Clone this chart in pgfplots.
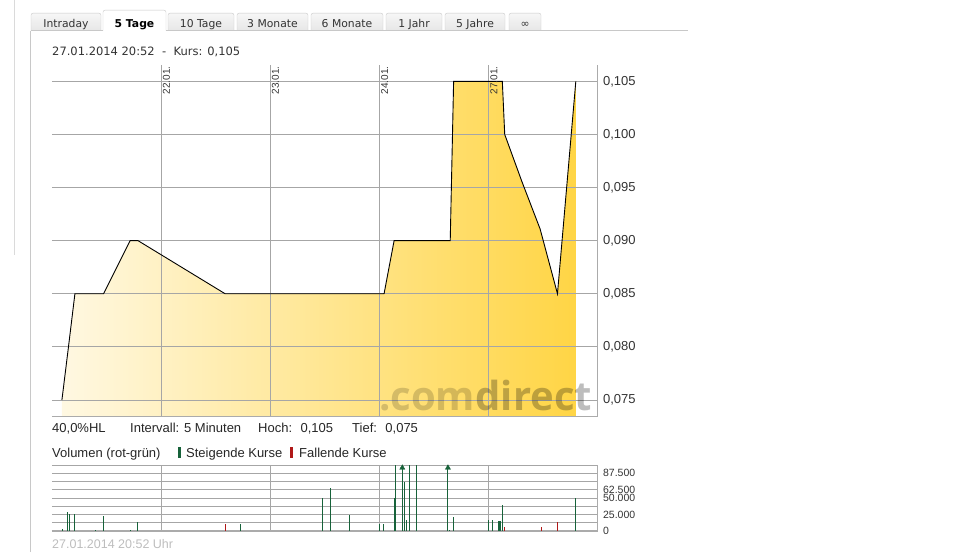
\documentclass[border=0pt]{standalone}
\usepackage{pgfplots}
\pgfplotsset{compat=1.18}
\usepackage{fontspec}
\setmainfont{Liberation Sans}
\newfontfamily\tahoma{DejaVu Sans}
\newfontfamily\logofont{Open Sans}
\definecolor{border}{HTML}{C8C8C8}
\definecolor{pageline}{HTML}{DADADA}
\definecolor{tabtop}{HTML}{F7F7F7}
\definecolor{tabbot}{HTML}{E6E6E6}
\definecolor{txt}{HTML}{333333}
\definecolor{gridgray}{HTML}{A6A6A6}
\definecolor{axgray}{HTML}{ABABAB}
\definecolor{fillL}{HTML}{FFF8E2}
\definecolor{fillR}{HTML}{FFD545}
\definecolor{volgreen}{HTML}{17623A}
\definecolor{volred}{HTML}{B01818}
\definecolor{footgray}{HTML}{BDBDBD}
\pgfplotsset{every tick label/.append style={overlay}}
\begin{document}
\begin{tikzpicture}[x=1pt,y=1pt]
\path (0,0) rectangle (960,552);
% page and panel borders
\draw[pageline] (14.5,552) -- (14.5,297);
\draw[border] (30.5,0) -- (30.5,521.5);
% tabs
\foreach \a/\b/\t in {31/101/Intraday,168/234/10 Tage,237/308/3 Monate,311/383/6 Monate,386/442/1 Jahr,445/505/5 Jahre,509/541/∞}{
  \draw[border, top color=tabtop, bottom color=tabbot, rounded corners=2pt] (\a,521.5) -- (\a,539) -- (\b,539) -- (\b,521.5);
  \node[anchor=base, font=\tahoma\fontsize{10.8}{12}\selectfont, text=txt, inner sep=0] at ({(\a+\b)/2},525) {\t};
}
\draw[border, fill=white, rounded corners=2pt] (103,521.5) -- (103,542) -- (166,542) -- (166,521.5);
\node[anchor=base, font=\tahoma\bfseries\fontsize{10.8}{12}\selectfont, text=black, inner sep=0] at (134.5,525) {5 Tage};
\draw[border] (30.5,521.5) -- (103,521.5);
\draw[border] (166,521.5) -- (688,521.5);
% header
\node[anchor=base west, font=\tahoma\fontsize{11.5}{13}\selectfont, text=txt, inner sep=0] at (52,497) {27.01.2014 20:52~ -~ Kurs: 0,105};

% main price chart
\begin{axis}[
  at={(47.5,127.6)}, anchor=south west, scale only axis,
  width=546pt, height=352pt,
  set layers,
  xmin=0, xmax=5, ymin=0.07343, ymax=0.10657,
  axis x line*=bottom, axis y line*=right,
  axis line style={draw=axgray, line width=0.9pt, -},
  xtick={1,2,3,4}, xticklabels={},
  ytick={0.075,0.080,0.085,0.090,0.095,0.100,0.105},
  yticklabels={{0,075},{0,080},{0,085},{0,090},{0,095},{0,100},{0,105}},
  yticklabel style={font=\fontsize{13}{15}\selectfont, text=txt, inner sep=0pt, xshift=5pt},
  major tick length=0pt,
  xmajorgrids, ymajorgrids,
  major grid style={draw=gridgray, line width=0.8pt},
]
\addplot[on layer=axis background, draw=none, left color=fillL, right color=fillR] coordinates {
 (0.092,0.07343) (0.092,0.075) (0.152,0.080) (0.211,0.085) (0.473,0.085) (0.716,0.090) (0.789,0.090)
 (1.587,0.085) (3.042,0.085) (3.134,0.090) (3.648,0.090) (3.679,0.105) (4.125,0.105) (4.147,0.100)
 (4.303,0.0956) (4.471,0.0911) (4.630,0.085) (4.798,0.105) (4.798,0.07343)
};
\addplot[black, line width=0.9pt, mark=none] coordinates {
 (0.092,0.075) (0.152,0.080) (0.211,0.085) (0.473,0.085) (0.716,0.090) (0.789,0.090)
 (1.587,0.085) (3.042,0.085) (3.134,0.090) (3.648,0.090) (3.679,0.105) (4.125,0.105) (4.147,0.100)
 (4.303,0.0956) (4.471,0.0911) (4.630,0.085) (4.798,0.105)
};
\node[overlay, rotate=90, anchor=north east, font=\fontsize{10}{12}\selectfont, text=txt, inner sep=1.5pt] at (axis cs:1,0.10657) {22.01.};
\node[overlay, rotate=90, anchor=north east, font=\fontsize{10}{12}\selectfont, text=txt, inner sep=1.5pt] at (axis cs:2,0.10657) {23.01.};
\node[overlay, rotate=90, anchor=north east, font=\fontsize{10}{12}\selectfont, text=txt, inner sep=1.5pt] at (axis cs:3,0.10657) {24.01.};
\node[overlay, rotate=90, anchor=north east, font=\fontsize{10}{12}\selectfont, text=txt, inner sep=1.5pt] at (axis cs:4,0.10657) {27.01.};
\end{axis}

% watermark
\node[anchor=base west, inner sep=0, font=\logofont\bfseries\fontsize{40}{40}\selectfont, text=black, text opacity=0.17] (wm) at (379,142) {.com};
\node[anchor=base west, inner sep=0, font=\logofont\bfseries\fontsize{40}{40}\selectfont, text=black, text opacity=0.26] at (wm.base east) {direct};

% info lines
\node[anchor=base west, inner sep=0, font=\fontsize{13}{15}\selectfont, text=black!85] at (52,120) {40,0\%HL};
\node[anchor=base west, inner sep=0, font=\fontsize{13}{15}\selectfont, text=black!85] at (130,120) {Intervall: 5 Minuten};
\node[anchor=base west, inner sep=0, font=\fontsize{13}{15}\selectfont, text=black!85] at (258,120) {Hoch:~ 0,105};
\node[anchor=base west, inner sep=0, font=\fontsize{13}{15}\selectfont, text=black!85] at (352,120) {Tief:~ 0,075};
\node[anchor=base west, inner sep=0, font=\fontsize{13}{15}\selectfont, text=black!85] at (52,95) {Volumen (rot-grün)};
\fill[volgreen] (178,94) rectangle (181,105);
\node[anchor=base west, inner sep=0, font=\fontsize{13}{15}\selectfont, text=black!85] at (186,95) {Steigende Kurse};
\fill[volred] (290,94) rectangle (293,105);
\node[anchor=base west, inner sep=0, font=\fontsize{13}{15}\selectfont, text=black!85] at (299,95) {Fallende Kurse};

% volume chart
\begin{axis}[
  at={(47.5,32.5)}, anchor=south west, scale only axis,
  width=546pt, height=65.7pt,
  xmin=0, xmax=5, ymin=0, ymax=100000,
  axis x line*=bottom, axis y line*=right,
  axis line style={draw=axgray, line width=0.9pt, -},
  x axis line style={line width=1.8pt},
  xtick={1,2,3,4}, xticklabels={},
  ytick={0,12500,25000,37500,50000,62500,75000,87500,100000},
  yticklabels={0,,25.000,,50.000,62.500,,87.500,},
  scaled y ticks=false,
  yticklabel style={font=\fontsize{10.5}{12}\selectfont, text=txt, inner sep=0pt, xshift=5pt},
  major tick length=0pt,
  xmajorgrids, ymajorgrids,
  major grid style={draw=gridgray, line width=0.8pt},
]
\addplot[ycomb, draw=volgreen, line width=1pt, mark=none] coordinates {
 (0.097,2500) (0.140,29000) (0.159,25000) (0.207,26000) (0.404,2000) (0.473,23000)
 (0.716,2000) (0.785,14000) (1.730,11000) (2.480,50000) (2.550,65000) (2.730,24000)
 (3.003,11000) (3.039,11000) (3.134,50000) (3.143,150000) (3.209,150000) (3.225,75000)
 (3.243,17000) (3.272,150000) (3.336,150000) (3.620,52000) (3.627,150000) (3.645,2000)
 (3.675,21000) (3.996,17000) (4.033,17000) (4.088,15000) (4.097,15000) (4.110,15000)
 (4.128,40000) (4.795,50000)
};
\addplot[ycomb, draw=volred, line width=1pt, mark=none] coordinates {
 (1.590,11000) (4.143,6000) (4.483,6000) (4.627,14000)
};
\addplot[only marks, mark=triangle*, mark size=3pt, color=volgreen] coordinates {
 (3.209,96000) (3.627,96000)
};
\end{axis}

% footer
\node[anchor=base west, inner sep=0, font=\fontsize{12.5}{14}\selectfont, text=footgray] at (52,4) {27.01.2014 20:52 Uhr};
\end{tikzpicture}
\end{document}
